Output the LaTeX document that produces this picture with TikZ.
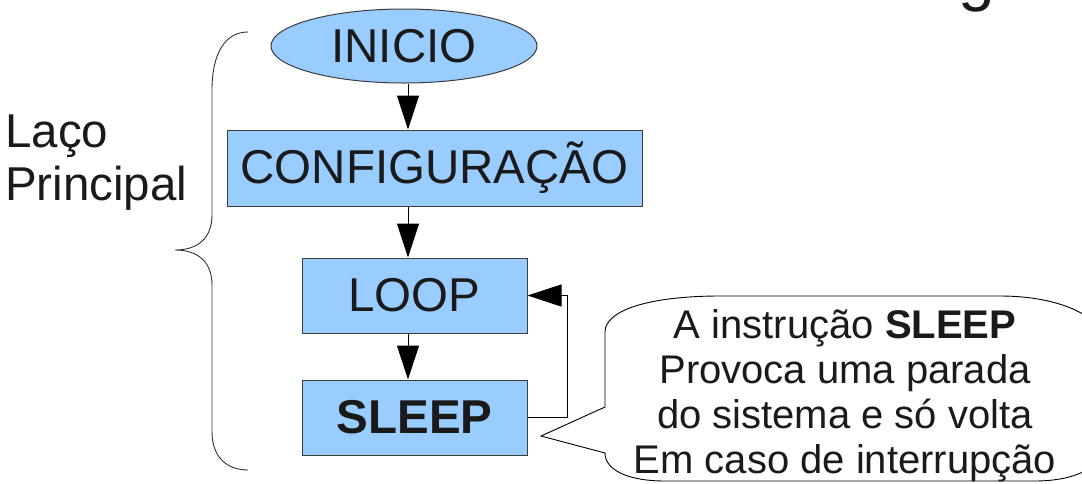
\documentclass[tikz,border=0pt]{standalone}
\usepackage{fontspec}
\setmainfont{Liberation Sans}
\usetikzlibrary{arrows.meta,shapes.geometric}

\definecolor{boxfill}{HTML}{99CCFF}
\definecolor{ink}{HTML}{1A1A1A}

\tikzset{
  flowbox/.style={draw=ink!85, line width=1pt, fill=boxfill, inner sep=0pt,
                  text=ink, font=\fontsize{47.5}{52}\selectfont},
  flowarrow/.style={draw=black, line width=1pt,
                    -{Triangle[length=34pt,width=22pt]}},
  callouttext/.style={anchor=base, inner sep=0pt, text=ink,
                      font=\fontsize{40}{45}\selectfont},
  sidetext/.style={anchor=base west, inner sep=0pt, text=ink,
                   font=\fontsize{47.5}{52}\selectfont},
}

\begin{document}
\begin{tikzpicture}[x=1pt,y=-1pt]
  \useasboundingbox (0,0) rectangle (1082,483);

  % title glyph running off the top edge
  \node[anchor=base west, inner sep=0pt, text=ink,
        font=\fontsize{66}{72}\selectfont] (title) at (958,-1.5) {g};

  % flow chart
  \node[flowbox, ellipse, minimum width=266pt, minimum height=74pt]
        (inicio) at (404,46) {INICIO};
  \node[flowbox, rectangle, minimum width=415pt, minimum height=76pt]
        (config) at (434.5,168) {CONFIGURAÇÃO};
  \node[flowbox, rectangle, minimum width=225pt, minimum height=75pt]
        (loop) at (414.5,295.5) {LOOP};
  \node[flowbox, rectangle, minimum width=225pt, minimum height=75pt]
        (sleep) at (414.5,417.5) {\bfseries SLEEP};

  \coordinate (spine) at (408,0);
  \draw[flowarrow] (inicio.south -| spine) -- (config.north -| spine);
  \draw[flowarrow] (config.south -| spine) -- (loop.north -| spine);
  \draw[flowarrow] (loop.south -| spine) -- (sleep.north -| spine);
  \draw[flowarrow] (sleep.east) -- ++(40,0) |- (loop.east);

  % brace around the main loop
  \draw[ink!90, line width=0.9pt]
    (248,32) .. controls (226,32) and (212,52) .. (212,90)
    -- (212,215) .. controls (212,238) and (198,250) .. (175,250)
    .. controls (198,250) and (212,262) .. (212,285)
    -- (212,432) .. controls (212,456) and (226,470) .. (248,470);
  \node[sidetext] (lab1) at (5,147) {Laço};
  \node[sidetext] (lab2) at (5,200) {Principal};

  % speech bubble
  \draw[black, line width=0.9pt, fill=white]
    (605,407) -- (541,436) -- (605,453)
    .. controls (605,470) and (628,481) .. (665,481)
    -- (1035,481) .. controls (1070,481) and (1100,470) .. (1100,450)
    -- (1100,335) .. controls (1100,318) and (1062,296) .. (1000,296)
    -- (720,296) .. controls (650,296) and (605,310) .. (605,332)
    -- cycle;
  \node[callouttext] (c1) at (845,338) {A instrução \textbf{SLEEP}};
  \node[callouttext] (c2) at (845,383) {Provoca uma parada};
  \node[callouttext] (c3) at (845,428) {do sistema e só volta};
  \node[callouttext] (c4) at (845,473) {Em caso de interrupção};
\end{tikzpicture}
\end{document}
